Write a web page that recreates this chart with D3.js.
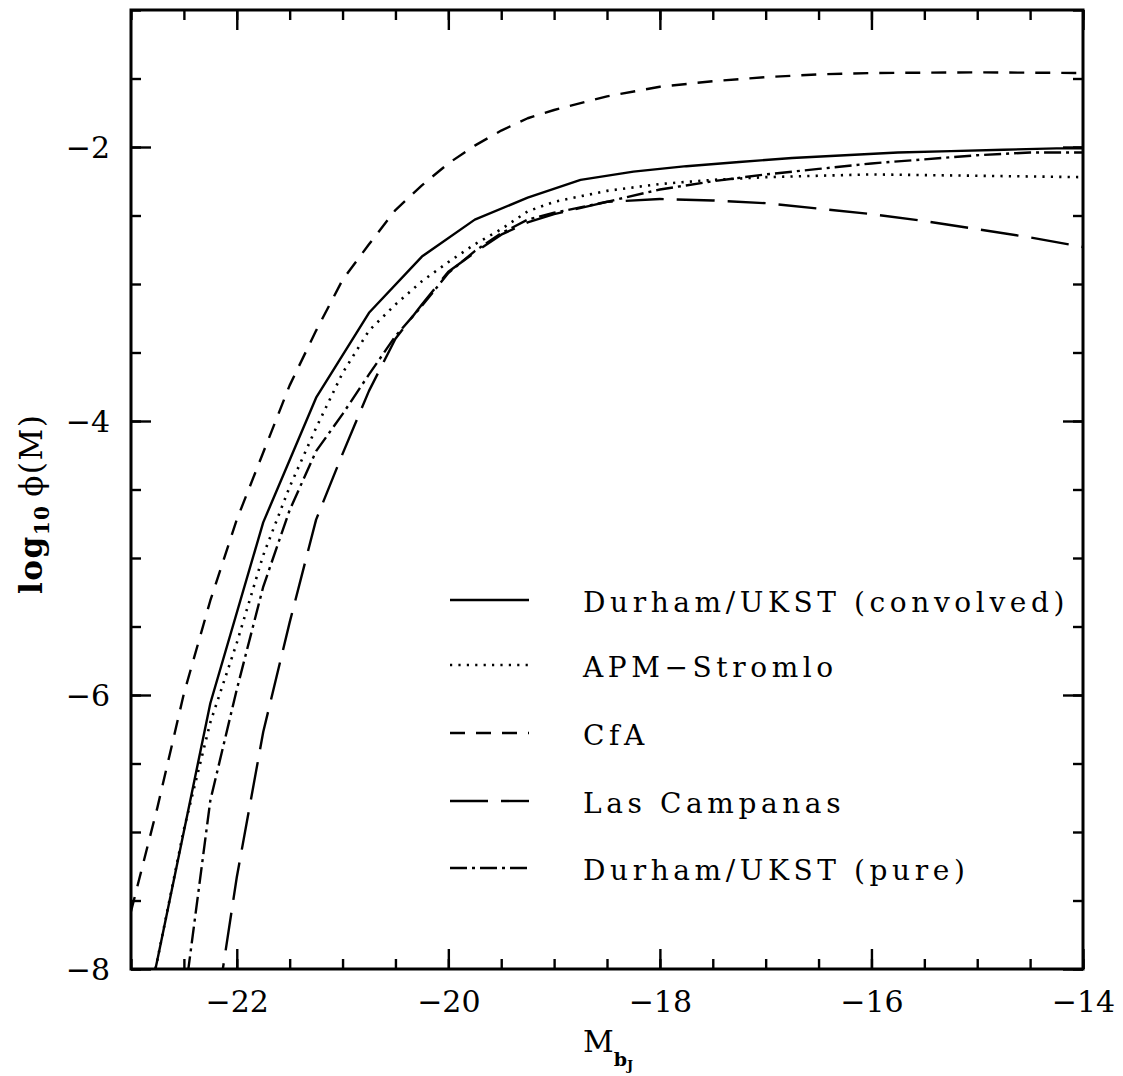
<!DOCTYPE html>
<html>
<head>
<meta charset="utf-8">
<script src="https://cdn.jsdelivr.net/npm/d3@7"></script>
<style>
  html, body { margin: 0; padding: 0; background: #fff; }
  svg { display: block; }
  text { font-family: "DejaVu Serif", "Liberation Serif", serif; fill: #000; }
</style>
</head>
<body>
<svg id="chart" width="1123" height="1076"></svg>
<script>
// ---- data (absolute magnitude M_bJ, log10 phi(M)) ----
const durhamConvM = [-23.0, -22.75, -22.25, -21.75, -21.25, -20.75, -20.25, -19.75, -19.25, -18.75, -18.25, -17.75, -17.25, -16.75, -16.25, -15.75, -15.25, -14.75, -14.25, -14.0];
const durhamConvV = [-8.85, -7.93, -6.06, -4.74, -3.83, -3.21, -2.80, -2.53, -2.37, -2.24, -2.18, -2.14, -2.11, -2.08, -2.06, -2.04, -2.03, -2.02, -2.01, -2.01];

const apmM = [-22.9, -22.75, -22.5, -22.25, -22.0, -21.75, -21.5, -21.25, -21.0, -20.75, -20.5, -20.25, -20.0, -19.75, -19.5, -19.25, -19.0, -18.5, -18.0, -17.5, -17.0, -16.0, -15.0, -14.0];
const apmV = [-8.48, -7.93, -6.98, -6.2, -5.62, -4.98, -4.48, -4.05, -3.65, -3.34, -3.15, -2.98, -2.84, -2.71, -2.60, -2.47, -2.40, -2.32, -2.27, -2.24, -2.22, -2.20, -2.21, -2.22];

const cfaM = [-23.0, -22.75, -22.5, -22.25, -22.0, -21.75, -21.5, -21.25, -21.0, -20.75, -20.5, -20.25, -20.0, -19.75, -19.5, -19.25, -19.0, -18.5, -18.0, -17.5, -17.0, -16.5, -16.0, -15.0, -14.0];
const cfaV = [-7.58, -6.82, -5.99, -5.31, -4.72, -4.23, -3.74, -3.34, -2.97, -2.71, -2.46, -2.28, -2.12, -1.99, -1.88, -1.79, -1.73, -1.63, -1.56, -1.52, -1.49, -1.47, -1.46, -1.455, -1.46];

const lasCampM = [-22.25, -22.0, -21.75, -21.5, -21.25, -21.0, -20.75, -20.5, -20.25, -20.0, -19.75, -19.5, -19.25, -19.0, -18.5, -18.0, -17.5, -17.0, -16.5, -16.0, -15.5, -15.0, -14.5, -14.0];
const lasCampV = [-8.6, -7.33, -6.27, -5.47, -4.72, -4.24, -3.78, -3.40, -3.15, -2.91, -2.77, -2.64, -2.55, -2.49, -2.40, -2.38, -2.39, -2.41, -2.45, -2.49, -2.54, -2.60, -2.66, -2.73];

const durhamPureM = [-22.6, -22.5, -22.25, -22.0, -21.75, -21.5, -21.25, -21.0, -20.75, -20.5, -20.25, -20.0, -19.75, -19.5, -19.25, -19.0, -18.5, -18.0, -17.5, -17.0, -16.5, -16.0, -15.5, -15.0, -14.5, -14.0];
const durhamPureV = [-8.9, -8.25, -6.77, -5.96, -5.21, -4.65, -4.22, -3.95, -3.66, -3.38, -3.16, -2.92, -2.76, -2.63, -2.53, -2.48, -2.40, -2.31, -2.25, -2.20, -2.16, -2.12, -2.09, -2.06, -2.04, -2.04];

const legendLabels = ["Durham/UKST (convolved)", "APM\u2212Stromlo", "CfA", "Las Campanas", "Durham/UKST (pure)"];
const xMajorTicks = [-22, -20, -18, -16, -14];
const yMajorTicks = [-8, -6, -4, -2];

// ---- layout ----
const svg = d3.select("#chart");
const x = d3.scaleLinear().domain([-23, -14]).range([131, 1083]);
const y = d3.scaleLinear().domain([-8, -1]).range([969, 10]);

const xMinor = d3.range(-23, -13.99, 0.5);
const yMinor = d3.range(-8, -0.99, 0.5);
const intFmt = d3.format("d");

const series = [
  { M: durhamConvM, V: durhamConvV, dash: null },
  { M: apmM, V: apmV, dash: "2.2,6.2" },
  { M: cfaM, V: cfaV, dash: "15,11" },
  { M: lasCampM, V: lasCampV, dash: "38,13" },
  { M: durhamPureM, V: durhamPureV, dash: "17,5,3,5" }
];

svg.append("defs").append("clipPath").attr("id", "clip")
  .append("rect").attr("x", x(-23)).attr("y", y(-1))
  .attr("width", x(-14) - x(-23)).attr("height", y(-8) - y(-1));

const line = d3.line().x(d => x(d[0])).y(d => y(d[1]));

const curves = svg.append("g").attr("clip-path", "url(#clip)");
// draw dotted first so the solid curve covers it where they coincide
[1, 2, 3, 4, 0].forEach(i => {
  const s = series[i];
  const pts = s.M.map((m, j) => [m, s.V[j]]);
  curves.append("path")
    .attr("d", line(pts))
    .attr("fill", "none")
    .attr("stroke", "#000")
    .attr("stroke-width", i === 1 ? 2.6 : 2.4)
    .attr("stroke-linejoin", "round")
    .attr("stroke-dasharray", s.dash);
});

// ---- axes (ticks inward on all four sides) ----
function styleAxis(g) {
  g.selectAll("path.domain").remove();
  g.selectAll(".tick line").attr("stroke", "#000").attr("stroke-width", 2.4);
}
const tickFont = 30;

// bottom
svg.append("g").attr("transform", `translate(0,${y(-8)})`)
  .call(d3.axisBottom(x).tickValues(xMinor).tickSize(-10).tickFormat(""))
  .call(styleAxis);
const gb = svg.append("g").attr("transform", `translate(0,${y(-8)})`)
  .call(d3.axisBottom(x).tickValues(xMajorTicks).tickSize(-20).tickPadding(0).tickFormat(intFmt))
  .call(styleAxis);
gb.selectAll(".tick text").attr("y", 43).attr("dy", 0)
  .style("font-size", tickFont + "px").style("font-family", "DejaVu Serif");
// top
svg.append("g").attr("transform", `translate(0,${y(-1)})`)
  .call(d3.axisTop(x).tickValues(xMinor).tickSize(-10).tickFormat(""))
  .call(styleAxis);
svg.append("g").attr("transform", `translate(0,${y(-1)})`)
  .call(d3.axisTop(x).tickValues(xMajorTicks).tickSize(-20).tickFormat(""))
  .call(styleAxis);
// left
svg.append("g").attr("transform", `translate(${x(-23)},0)`)
  .call(d3.axisLeft(y).tickValues(yMinor).tickSize(-10).tickFormat(""))
  .call(styleAxis);
const gl = svg.append("g").attr("transform", `translate(${x(-23)},0)`)
  .call(d3.axisLeft(y).tickValues(yMajorTicks).tickSize(-20).tickPadding(0).tickFormat(intFmt))
  .call(styleAxis);
gl.selectAll(".tick text").attr("x", -21).attr("dy", "0.36em")
  .style("font-size", tickFont + "px").style("font-family", "DejaVu Serif");
// right
svg.append("g").attr("transform", `translate(${x(-14)},0)`)
  .call(d3.axisRight(y).tickValues(yMinor).tickSize(-10).tickFormat(""))
  .call(styleAxis);
svg.append("g").attr("transform", `translate(${x(-14)},0)`)
  .call(d3.axisRight(y).tickValues(yMajorTicks).tickSize(-20).tickFormat(""))
  .call(styleAxis);

// frame
svg.append("rect")
  .attr("x", x(-23)).attr("y", y(-1))
  .attr("width", x(-14) - x(-23)).attr("height", y(-8) - y(-1))
  .attr("fill", "none").attr("stroke", "#000").attr("stroke-width", 3);

// ---- axis titles ----
const xt = svg.append("text")
  .attr("x", 583).attr("y", 1052)
  .style("font-size", "30px");
xt.append("tspan").text("M");
xt.append("tspan").attr("dy", 14).style("font-size", "19px").style("font-weight", "bold").text("b");
xt.append("tspan").attr("dy", 4).style("font-size", "13px").style("font-weight", "bold").text("J");

const yt = svg.append("text")
  .attr("transform", "translate(42,594) rotate(-90)")
  .attr("x", 0).attr("y", 0)
  .style("font-size", "31px").style("font-weight", "bold").style("letter-spacing", "1.5px");
yt.append("tspan").text("log");
yt.append("tspan").attr("dy", 7).style("font-size", "20px").text("10");
yt.append("tspan").attr("dy", -7).style("font-weight", "normal").text("\u2009\u03D5(M)");

// ---- legend ----
const legendY = [600, 665, 733, 801, 868];
series.forEach((s, i) => {
  svg.append("line")
    .attr("x1", 450).attr("x2", 529)
    .attr("y1", legendY[i]).attr("y2", legendY[i])
    .attr("stroke", "#000").attr("stroke-width", i === 1 ? 2.6 : 2.4)
    .attr("stroke-dasharray", s.dash);
  svg.append("text")
    .attr("x", 583).attr("y", legendY[i] + 12)
    .style("font-size", "28px").style("letter-spacing", "4.6px")
    .text(legendLabels[i]);
});
</script>
</body>
</html>
